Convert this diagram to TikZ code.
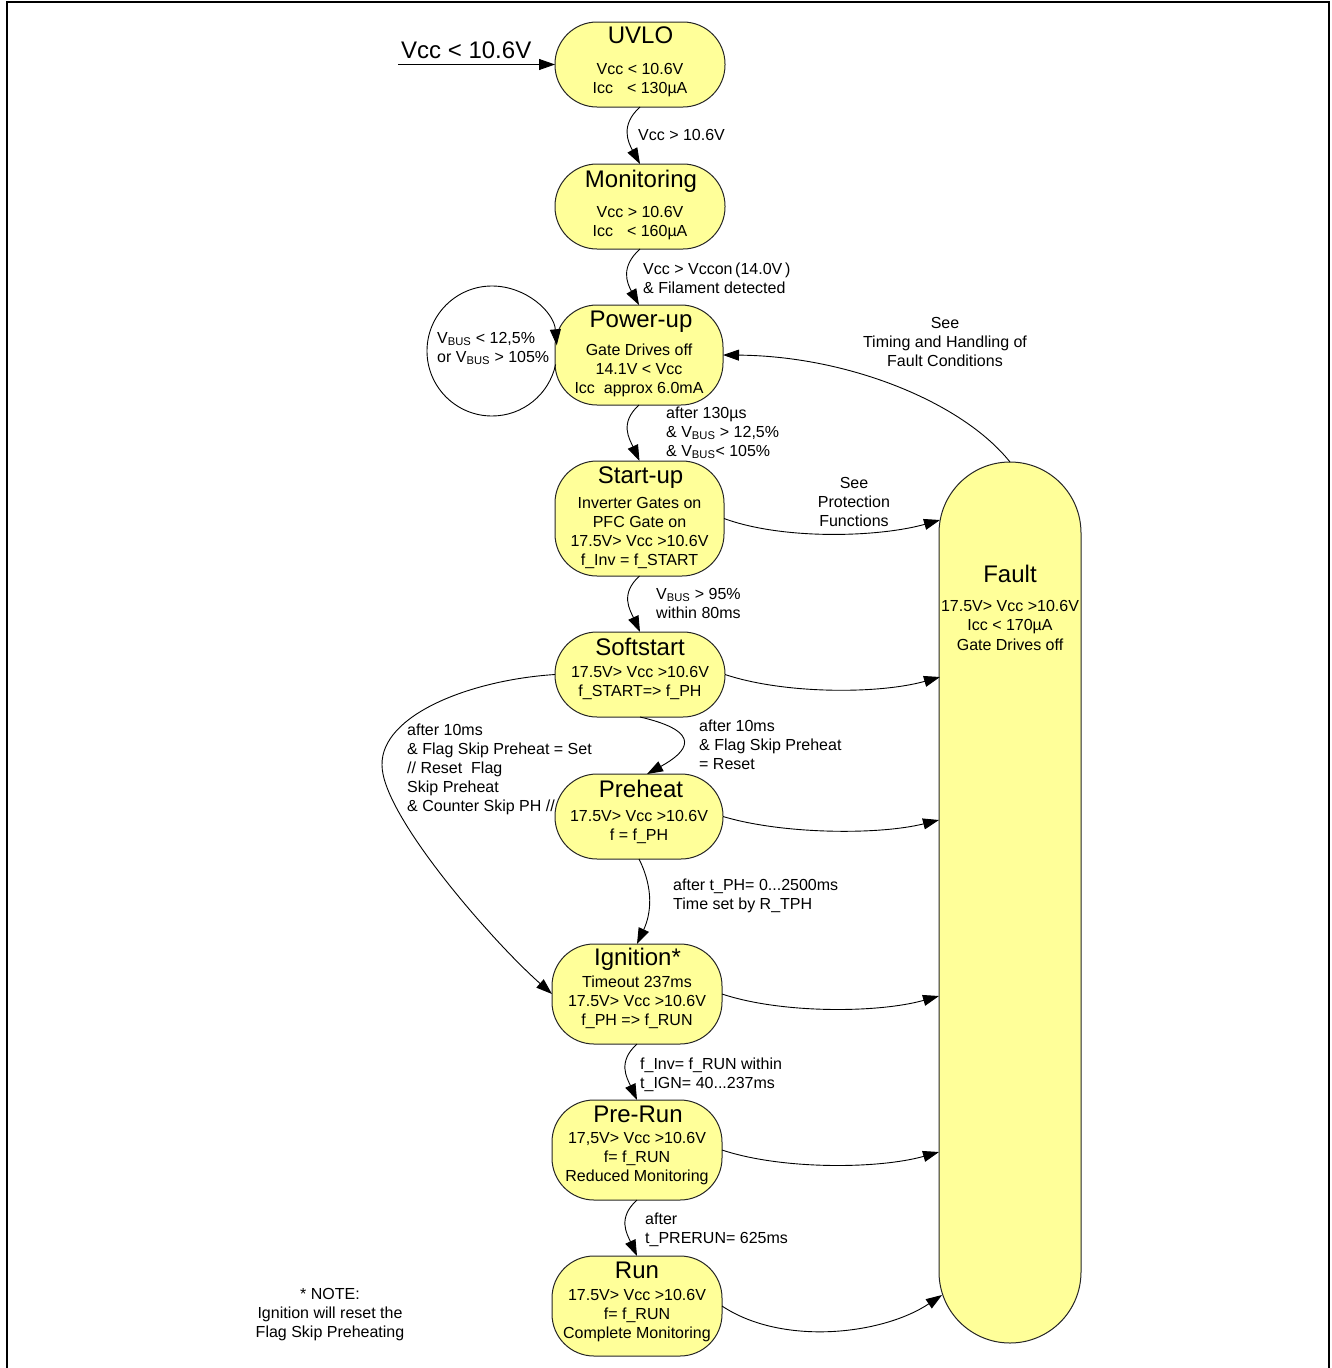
\documentclass[tikz,border=0pt]{standalone}
\usepackage{fontspec}
\setmainfont{Liberation Sans}
\usetikzlibrary{arrows.meta,calc}
\definecolor{styel}{RGB}{255,255,153}
\newcommand\vbus{V\textsubscript{BUS}}
\newcommand\ml[2]{\begin{tabular}[t]{@{}#1@{}}#2\end{tabular}}
\tikzset{
  stbox/.style={draw=black!85, line width=1pt, fill=styel, rounded corners=42pt, inner sep=0pt, outer sep=0pt},
  ttl/.style={font=\fontsize{24}{28}\selectfont, anchor=base, inner sep=0pt},
  bdy/.style={font=\fontsize{16}{19.2}\selectfont, anchor=base, inner sep=0pt},
  lbl/.style={font=\fontsize{16}{19.2}\selectfont, anchor=base west, inner sep=0pt},
  lblc/.style={font=\fontsize{16}{19.2}\selectfont, anchor=base, inner sep=0pt},
  conn/.style={draw, line width=0.9pt, -{Triangle[length=16pt,width=11pt]}}
}
\begin{document}
\begin{tikzpicture}[x=1pt,y=-1pt]
\useasboundingbox (0,0) rectangle (1331,1368);
\draw[line width=1.2pt] (7,1368) -- (7,2) -- (1329,2) -- (1329,1368);

% states
\node[stbox, minimum width=170pt, minimum height=85pt] (uvlo) at (640,64.5) {};
\node[ttl] (uvloT) at (640.5,43) {UVLO};
\node[bdy] (uvloB) at (640,74) {\ml{c}{Vcc < 10.6V\\Icc\hspace{14pt}< 130µA}};

\node[stbox, minimum width=170pt, minimum height=85pt] (mon) at (640,206.5) {};
\node[ttl] (monT) at (641,187) {Monitoring};
\node[bdy] (monB) at (640,217) {\ml{c}{Vcc > 10.6V\\Icc\hspace{14pt}< 160µA}};

\node[stbox, minimum width=168pt, minimum height=100pt] (pu) at (639,355) {};
\node[ttl] (puT) at (641,327) {Power-up};
\node[bdy] (puB) at (639,355) {\ml{c}{Gate Drives off\\14.1V < Vcc\\Icc\ \ approx 6.0mA}};

\node[stbox, minimum width=169pt, minimum height=115pt] (su) at (639.5,518.5) {};
\node[ttl] (suT) at (640.5,483) {Start-up};
\node[bdy] (suB) at (639.5,508) {\ml{c}{Inverter Gates on\\PFC Gate on\\17.5V> Vcc >10.6V\\f\_Inv = f\_START}};

\node[stbox, minimum width=170pt, minimum height=85pt] (sst) at (640,674.5) {};
\node[ttl] (sstT) at (640,655) {Softstart};
\node[bdy] (sstB) at (640,677) {\ml{c}{17.5V> Vcc >10.6V\\f\_START=> f\_PH}};

\node[stbox, minimum width=168pt, minimum height=85pt] (ph) at (639,816.5) {};
\node[ttl] (phT) at (641,797) {Preheat};
\node[bdy] (phB) at (639,821) {\ml{c}{17.5V> Vcc >10.6V\\f = f\_PH}};

\node[stbox, minimum width=170pt, minimum height=100pt] (ign) at (637,994) {};
\node[ttl] (ignT) at (637.5,965) {Ignition*};
\node[bdy] (ignB) at (637,987) {\ml{c}{Timeout 237ms\\17.5V> Vcc >10.6V\\f\_PH => f\_RUN}};

\node[stbox, minimum width=170pt, minimum height=100pt] (pr) at (637,1150) {};
\node[ttl] (prT) at (638,1122) {Pre-Run};
\node[bdy] (prB) at (637,1143) {\ml{c}{17,5V> Vcc >10.6V\\f= f\_RUN\\Reduced Monitoring}};

\node[stbox, minimum width=170pt, minimum height=100pt] (run) at (637,1306) {};
\node[ttl] (runT) at (637,1278) {Run};
\node[bdy] (runB) at (637,1300) {\ml{c}{17.5V> Vcc >10.6V\\f= f\_RUN\\Complete Monitoring}};

\node[stbox, rounded corners=71pt, minimum width=142pt, minimum height=881pt] (flt) at (1010,902.5) {};
\node[ttl] (fltT) at (1010,582) {Fault};
\node[bdy] (fltB) at (1010,611.7) {\ml{c}{17.5V> Vcc >10.6V\\Icc < 170µA\\Gate Drives off}};

% entry
\coordinate (entry) at (398,64.5);
\node[ttl, anchor=base west] (entryL) at (401,58) {Vcc < 10.6V};
\draw[conn] (entry) -- (uvlo.west);

% main chain
\draw[conn] (uvlo.south) .. controls +(-20,18) and +(-12,-22) .. (mon.north);
\draw[conn] (mon.south) .. controls +(-20,18) and +(-12,-22) .. (pu.north);
\draw[conn] (pu.south) .. controls +(-20,18) and +(-10,-22) .. (su.north);
\draw[conn] (su.south) .. controls +(-20,18) and +(-10,-22) .. (sst.north);
\draw[conn] (sst.south) .. controls +(65,15) and +(40,-22) .. ($(ph.north)+(8,0)$);
\draw[conn] (ph.south) .. controls +(15,30) and +(14,-30) .. (ign.north);
\draw[conn] (ign.south) .. controls +(-20,18) and +(-10,-22) .. (pr.north);
\draw[conn] (pr.south) .. controls +(-20,18) and +(-10,-22) .. (run.north);
\draw[conn] (sst.west) .. controls (470,680) and (381,715) .. (382,765)
  .. controls (382,815) and (492,941) .. (ign.west);

% self loop on power-up
\draw[conn] ($(pu.west)+(0.6,9.5)$) .. controls (549.2,394.5) and (522.7,416) .. (492,416)
  .. controls (456.1,416) and (427,386.9) .. (427,351)
  .. controls (427,315.1) and (456.1,286) .. (492,286)
  .. controls (525.7,286) and (553.8,311.7) .. ($(pu.west)+(1.75,-9.7)$);

% fault
\draw[conn] (flt.north) .. controls (962,402) and (848,356) .. (pu.east);
\draw[conn] (su.east) .. controls +(60,22) and +(-60,17) .. ($(flt.north west)+(1,58)$);
\draw[conn] (sst.east) .. controls +(60,20) and +(-60,17) .. ($(flt.north west)+(1,215)$);
\draw[conn] (ph.east) .. controls +(60,18) and +(-60,15) .. ($(flt.north west)+(0,358)$);
\draw[conn] (ign.east) .. controls +(60,20) and +(-60,17) .. ($(flt.north west)+(0,534)$);
\draw[conn] (pr.east) .. controls +(60,20) and +(-60,17) .. ($(flt.north west)+(0,690)$);
\draw[conn] (run.east) .. controls +(60,40) and +(-60,40) .. ($(flt.north west)+(3,833)$);

% labels
\node[lbl] (l1) at (638,140) {Vcc > 10.6V};
\node[lbl] (l2) at (643,274) {\ml{l}{Vcc > Vccon\,(14.0V\,)\\\& Filament detected}};
\node[lbl] (l3) at (666,418) {\ml{l}{after 130µs\\\& \vbus{} > 12,5\%\\\& \vbus< 105\%}};
\node[lbl] (l4) at (656,599) {\ml{l}{\vbus{} > 95\%\\within 80ms}};
\node[lbl] (l5) at (699,731) {\ml{l}{after 10ms\\\& Flag Skip Preheat\\= Reset}};
\node[lbl] (l6) at (407,735) {\ml{l}{after 10ms\\\& Flag Skip Preheat = Set\\// Reset\ \ Flag\\Skip Preheat\\\& Counter Skip PH //}};
\node[lbl] (l7) at (673,890) {\ml{l}{after t\_PH= 0...2500ms\\Time set by R\_TPH}};
\node[lbl] (l8) at (640,1069) {\ml{l}{f\_Inv= f\_RUN within\\t\_IGN= 40...237ms}};
\node[lbl] (l9) at (645,1224) {\ml{l}{after\\t\_PRERUN= 625ms}};
\node[lbl] (l10) at (437,343) {\ml{l}{\vbus{} < 12,5\%\\or \vbus{} > 105\%}};
\node[lblc] (l11) at (945,328) {\ml{c}{See\\Timing and Handling of\\Fault Conditions}};
\node[lblc] (l12) at (854,488) {\ml{c}{See\\Protection\\Functions}};
\node[lblc] (note) at (330,1299) {\ml{c}{* NOTE:\\Ignition will reset the\\Flag Skip Preheating}};
\end{tikzpicture}
\end{document}
